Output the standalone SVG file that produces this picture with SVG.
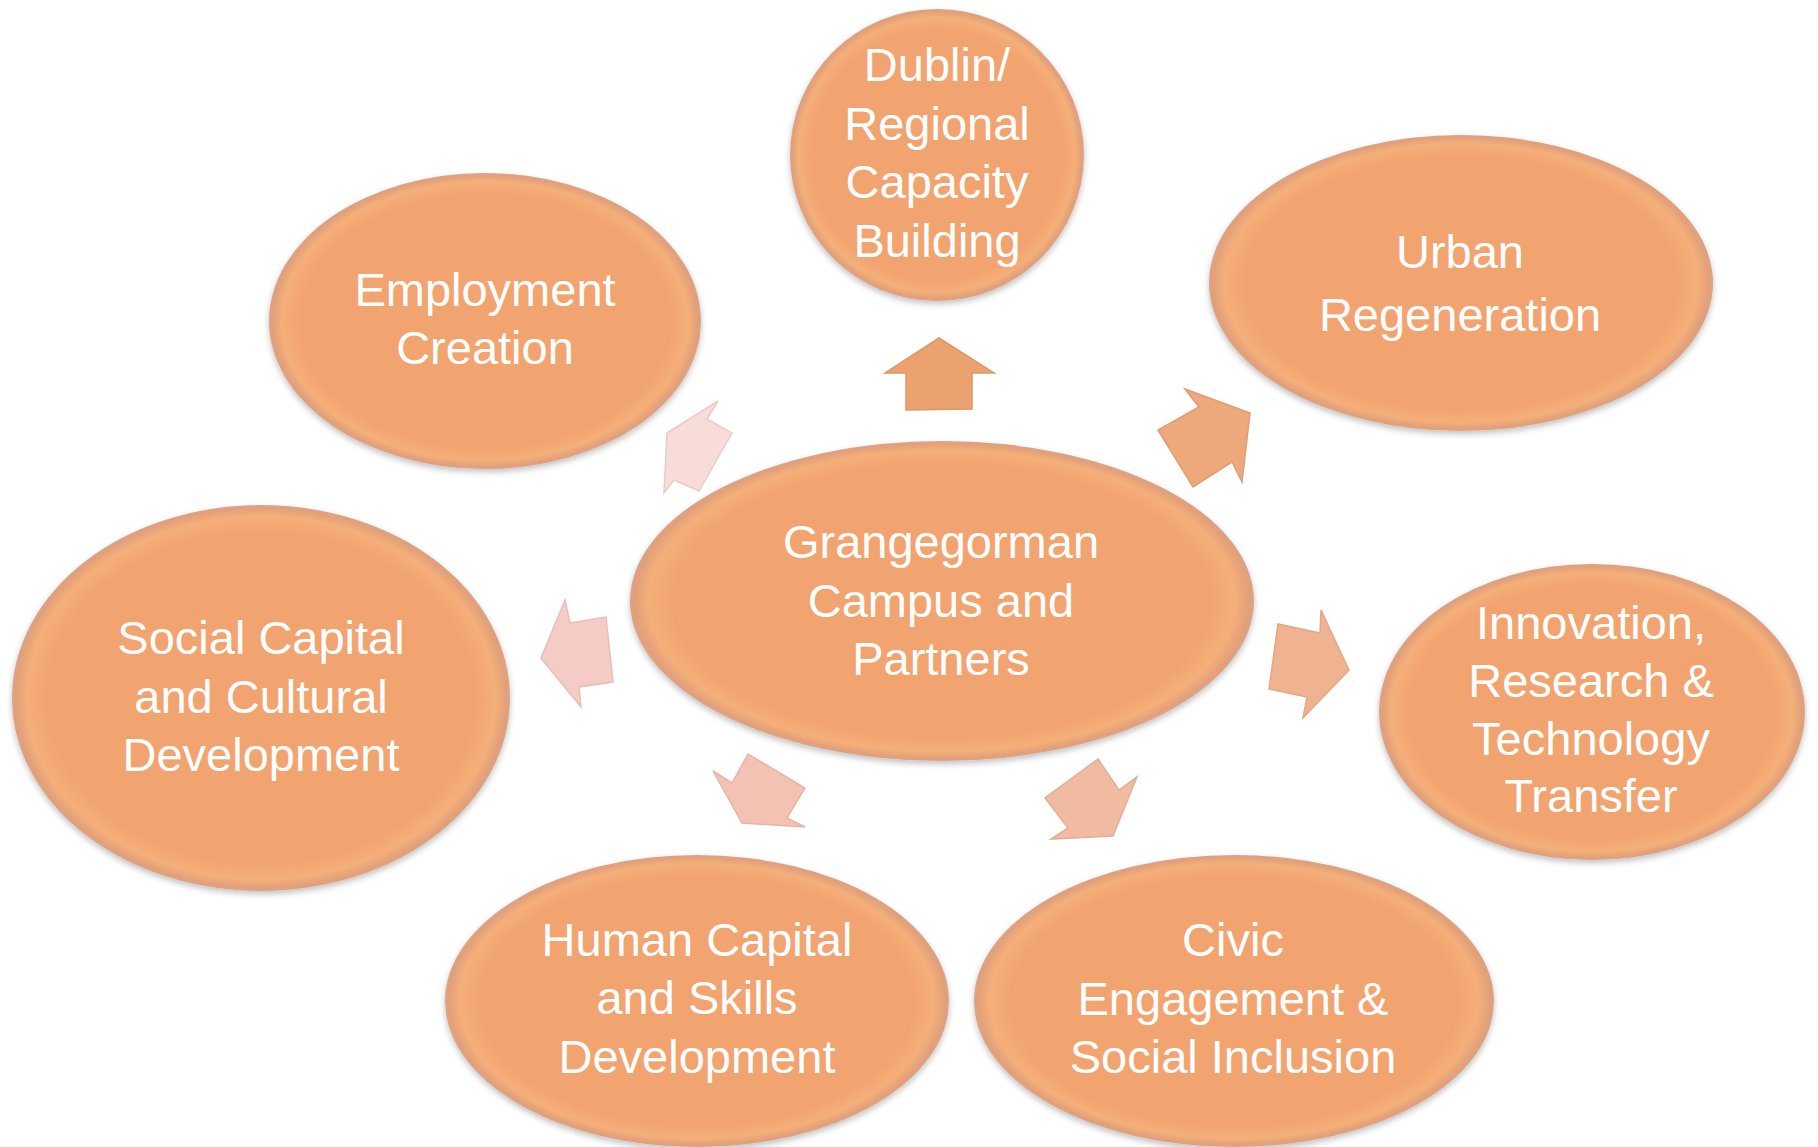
<svg xmlns="http://www.w3.org/2000/svg" width="1818" height="1147" viewBox="0 0 1818 1147">
<defs>
<radialGradient id="ell" cx="0.5" cy="0.5" r="0.5">
<stop offset="0" stop-color="#F2A470"/>
<stop offset="0.86" stop-color="#F2A470"/>
<stop offset="0.94" stop-color="#F5AF79"/>
<stop offset="0.985" stop-color="#E2A07A"/>
<stop offset="1" stop-color="#D9A386"/>
</radialGradient>
<filter id="sh" x="-10%" y="-10%" width="120%" height="125%">
<feGaussianBlur in="SourceAlpha" stdDeviation="3"/>
<feOffset dx="0" dy="3" result="b"/>
<feComponentTransfer><feFuncA type="linear" slope="0.25"/></feComponentTransfer>
<feMerge><feMergeNode/><feMergeNode in="SourceGraphic"/></feMerge>
</filter>
<style>
.node ellipse{fill:url(#ell);filter:url(#sh);}
.node text{font-family:"Liberation Sans",Arial,sans-serif;font-size:47px;fill:#FFFFFF;text-anchor:middle;}
.arr{stroke-width:1.5;stroke-linejoin:miter;}
</style>
</defs>
<rect width="1818" height="1147" fill="#FFFFFF"/>
<g id="connectors">
<polygon class="arr" fill="#EBA26E" stroke="#DE9766" points="939,338 994,373 972,373 972,409 906,410 906,373 885,373"/>
<polygon class="arr" fill="#EDA87C" stroke="#E09C72" points="1185,389 1250,413 1242,482 1232,462 1193,487 1158,430 1199,407"/>
<polygon class="arr" fill="#F0B38F" stroke="#E3A884" points="1321,610 1349,670 1303,718 1307,697 1269,689 1278,624 1320,633"/>
<polygon class="arr" fill="#F1BBA2" stroke="#E4AE96" points="1098,759 1119,790 1137,777 1113,836 1051,839 1068,828 1045,798"/>
<polygon class="arr" fill="#F3C2B3" stroke="#E6B5A6" points="713,771 732,783 748,754 805,788 787,818 805,827 742,823"/>
<polygon class="arr" fill="#F5CBC5" stroke="#E8BEB8" points="565,600 570,623 606,617 613,682 579,687 581,707 541,658"/>
<polygon class="arr" fill="#F8DCDA" stroke="#EACBC8" points="718,401 707,419 732,433 699,491 674,480 664,493 667,433"/>
</g>
<g id="node-dublin" class="node">
<ellipse cx="937" cy="155" rx="147" ry="146"/>
<text x="937" y="81">Dublin/</text>
<text x="937" y="139.5">Regional</text>
<text x="937" y="198">Capacity</text>
<text x="937" y="256.5">Building</text>
</g>
<g id="node-employment" class="node">
<ellipse cx="485" cy="321" rx="216" ry="148"/>
<text x="485" y="306">Employment</text>
<text x="485" y="364">Creation</text>
</g>
<g id="node-urban" class="node">
<ellipse cx="1461" cy="283" rx="252" ry="148"/>
<text x="1460" y="268">Urban</text>
<text x="1460" y="331">Regeneration</text>
</g>
<g id="node-social" class="node">
<ellipse cx="261" cy="698" rx="249" ry="193"/>
<text x="261" y="654">Social Capital</text>
<text x="261" y="713">and Cultural</text>
<text x="261" y="771">Development</text>
</g>
<g id="node-innovation" class="node">
<ellipse cx="1592" cy="712" rx="213" ry="148"/>
<text x="1591" y="639">Innovation,</text>
<text x="1591" y="697">Research &amp;</text>
<text x="1591" y="755">Technology</text>
<text x="1591" y="812">Transfer</text>
</g>
<g id="node-human" class="node">
<ellipse cx="697" cy="1001" rx="252" ry="146"/>
<text x="697" y="956">Human Capital</text>
<text x="697" y="1014">and Skills</text>
<text x="697" y="1073">Development</text>
</g>
<g id="node-civic" class="node">
<ellipse cx="1234" cy="1001" rx="260" ry="146"/>
<text x="1233" y="956">Civic</text>
<text x="1233" y="1015">Engagement &amp;</text>
<text x="1233" y="1073">Social Inclusion</text>
</g>
<g id="node-center" class="node">
<ellipse cx="942" cy="601" rx="312" ry="160"/>
<text x="941" y="558">Grangegorman</text>
<text x="941" y="617">Campus and</text>
<text x="941" y="675">Partners</text>
</g>
</svg>
